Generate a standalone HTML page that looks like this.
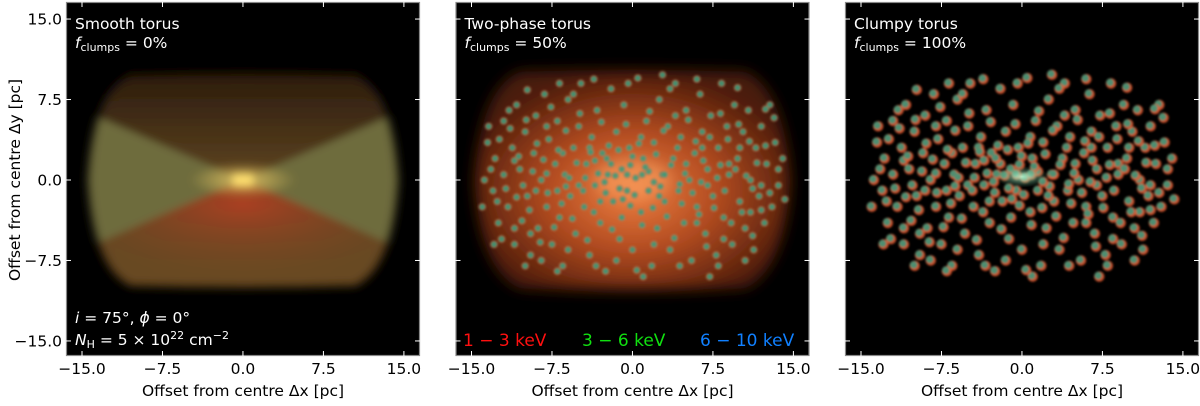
<!DOCTYPE html>
<html><head><meta charset="utf-8"><style>
html,body{margin:0;padding:0;background:#fff;}
svg text{font-family:"DejaVu Sans","Liberation Sans",sans-serif;}
</style></head><body>
<svg id="fig" width="1200" height="401" viewBox="0 0 1200 401" xmlns="http://www.w3.org/2000/svg">
<defs>
<filter id="blur3" x="-20%" y="-20%" width="140%" height="140%"><feGaussianBlur stdDeviation="4"/></filter>
<filter id="blur6" x="-20%" y="-20%" width="140%" height="140%"><feGaussianBlur stdDeviation="7"/></filter>
<filter id="blur1" x="-50%" y="-50%" width="200%" height="200%"><feGaussianBlur stdDeviation="1"/></filter>
<radialGradient id="core" cx="50%" cy="50%" r="50%"><stop offset="0" stop-color="#ffe070"/><stop offset="0.3" stop-color="#e0c060" stop-opacity="0.7"/><stop offset="1" stop-color="#e0c060" stop-opacity="0"/></radialGradient>
<radialGradient id="redbot" cx="50%" cy="20%" r="65%"><stop offset="0" stop-color="#b04020" stop-opacity="0.95"/><stop offset="1" stop-color="#7a4420" stop-opacity="0"/></radialGradient>
<linearGradient id="topfade" x1="0" y1="0" x2="0" y2="1"><stop offset="0" stop-color="#2a1a0c"/><stop offset="0.5" stop-color="#5e4420"/><stop offset="1" stop-color="#6a4a22"/></linearGradient>
<radialGradient id="orange2" cx="50%" cy="55%" r="55%"><stop offset="0" stop-color="#f08040"/><stop offset="0.5" stop-color="#b04a20"/><stop offset="1" stop-color="#4a1a08"/></radialGradient>
<radialGradient id="core3" cx="50%" cy="50%" r="50%"><stop offset="0" stop-color="#c0ffd8" stop-opacity="0.8"/><stop offset="1" stop-color="#60c090" stop-opacity="0"/></radialGradient>
</defs>
<g id="root"></g>
</svg>
<script>
const xTicks=[-15,-7.5,0,7.5,15];
const yTicks=[15,7.5,0,-7.5,-15];
const xTickLabels=["\u221215.0","\u22127.5","0.0","7.5","15.0"];
const yTickLabels=["15.0","7.5","0.0","\u22127.5","\u221215.0"];
const titles=["Smooth torus","Two-phase torus","Clumpy torus"];
const fclumps=["0%","50%","100%"];
const clumps=[
[-13.5,3.5],[-13,-1],[-12.8,2],[-12.5,-4],[-12,5.5],[-12,0.5],[-11.6,-2.5],[-11.2,3],[-11,-6],[-10.8,7],[-10.5,1],[-10.3,-3.8],[-10,4.5],[-9.8,-1.5],[-9.5,-7],[-9.2,2.5],[-9,6],[-8.8,-4.5],[-8.5,0],[-8.2,8],[-8,-2.5],[-7.8,3.8],[-7.5,-6],[-7.2,1.5],[-7,5.5],[-6.8,-3.5],[-6.5,-8],[-6.3,0.5],[-6,7.5],[-5.8,-1.5],[-5.5,3],[-5.3,-5],[-5,5],[-4.8,9],[-4.5,-2.5],[-4.3,1.5],[-4,-7],[-3.8,4],[-3.5,-0.5],[-3.3,6.5],[-3,-4],[-2.8,2.5],[-2.5,-8.5],[-2.3,0.5],[-2,8.5],[-1.8,-2],[-1.5,4.5],[-1.2,-5.5],[-1,1],[-0.8,7],[-0.5,-1],[-0.3,3],[0,-6.5],[0.3,0.2],[0.5,9.5],[0.8,-3],[1,2],[1.3,5.5],[1.5,-1],[1.8,-8],[2,3.5],[2.3,-4.5],[2.5,7.5],[2.8,0.5],[3,-2],[3.3,5],[3.5,-6.5],[3.8,2],[4,9],[4.3,-1],[4.5,4],[4.8,-4],[5,6.5],[5.3,0],[5.5,-7.5],[5.8,2.5],[6,-2.5],[6.3,8],[6.5,4.5],[6.8,-5],[7,1],[7.3,6],[7.5,-1.5],[7.8,-7],[8,3],[8.3,9],[8.5,-3.5],[8.8,5],[9,0.5],[9.3,-6],[9.5,7],[9.8,2],[10,-2],[10.3,4.5],[10.5,-4.5],[10.8,6.5],[11,0],[11.3,-6.5],[11.5,3],[11.8,-1.5],[12,5],[12.3,-4],[12.5,1.5],[12.8,7],[13,-2.5],[13.3,3.5],[13.6,-0.5],[14,2],[-13.8,0],[-12.2,-5.5],[-11.5,6.5],[-9.5,-5],[-8,5],[-6,-6.5],[-4,3],[-3,-2],[-1,-3.5],[0.8,4],[2,-6],[4,6],[6,-4],[8.5,-5.5],[10,3],[11,-3],[-2,1.5],[-0.5,0.5],[1.5,0.8],[3,0.5],[-3.5,1.8],[-5,-0.5],[5,1.5],[-7,-1],[7,-0.5],[-9,-1],[9,1.5],[-11,1.8],[12,-0.5],[-2.5,-1.2],[2.5,-1.5],[0,2.2],[-6.5,2.5],[6.5,3],[-8.5,-7.5],[8,-8],[-1.5,-7.5],[3.5,8.5],[-5.5,8],[1,-9]
];
const clumpsB=[
[-14,-2.5],[-13.2,1],[-12.6,-2],[-12.4,3.8],[-11.8,-0.8],[-11.4,4.8],[-11,-4.5],[-10.6,2.2],[-10.2,-0.5],[-9.9,5.6],[-9.6,-2.8],[-9.3,0.8],[-8.9,3.4],[-8.6,-5.8],[-8.3,1.9],[-7.9,-1.2],[-7.6,6.8],[-7.3,-4.4],[-6.9,2.8],[-6.6,-2.2],[-6.2,4.6],[-5.9,0.2],[-5.6,-3.6],[-5.2,1.6],[-4.9,6.2],[-4.6,-1],[-4.2,-5.6],[-3.9,2.6],[-3.6,-3],[-3.2,0.6],[-2.9,5.4],[-2.6,-0.2],[-2.2,3.2],[-1.9,-4.6],[-1.6,0.4],[-1.3,2.8],[-0.9,-1.8],[-0.6,5.2],[-0.2,1.4],[0.2,-1.4],[0.6,3.4],[0.9,-4.2],[1.2,1.2],[1.6,6.4],[1.9,-2.6],[2.2,2.4],[2.6,-0.6],[2.9,4.6],[3.2,-3.4],[3.6,1.4],[3.9,-5.4],[4.2,3],[4.6,-2.2],[4.9,0.6],[5.2,5.6],[5.6,-1.2],[5.9,3.6],[6.2,-3.2],[6.6,1.8],[6.9,-6.2],[7.2,4],[7.6,-2.6],[7.9,0.2],[8.2,6.2],[8.6,-1],[8.9,3.8],[9.2,-4],[9.6,1],[9.9,5.2],[10.2,-3],[10.6,0.4],[10.9,3.6],[11.2,-5.2],[11.6,1.6],[12,-2.8],[12.4,3.2],[12.8,-1.2],[13.2,5.8],[13.6,1],[14.2,-1.8],[-13.4,5],[-12.9,-6],[-10,-8],[-7,-8.5],[-3.4,-8],[0.4,-8.4],[4.4,-8],[7.2,-9],[10.5,-7.5],[-9.8,8.4],[-6.8,9],[-3.6,9.4],[-0.4,9],[2.8,9.8],[6,9.4],[9.8,8.6],[12.4,6.6],[-1.2,-0.8],[0.9,0.5],[-0.2,-2.4],[2,-0.2],[-2.4,2],[-4.4,0.2],[4.4,-0.4],[-6.2,-0.6],[6.4,-0.2],[-8,0.6],[8.2,1.4],[-10.8,-1.6],[11.2,-0.8]
];
const NS='http://www.w3.org/2000/svg';
const root=document.getElementById('root');
const K=10.73, STEP=389.5;
function sx(p,x){return 82+p*STEP+(x+15)*K;}
function sy(y){return 180-y*K;}
function el(tag,attrs,parent){const e=document.createElementNS(NS,tag);for(const k in attrs)e.setAttribute(k,attrs[k]);(parent||root).appendChild(e);return e;}
function barrel(p){
 const X=x=>sx(p,x),Y=sy;
 return `M${X(-10.5)},${Y(10.1)} Q${X(0)},${Y(10.4)} ${X(10.5)},${Y(10.1)} Q${X(14.2)},${Y(8.5)} ${X(14.7)},${Y(0)} Q${X(14.2)},${Y(-8.5)} ${X(10.5)},${Y(-10.1)} Q${X(0)},${Y(-10.4)} ${X(-10.5)},${Y(-10.1)} Q${X(-14.2)},${Y(-8.5)} ${X(-14.7)},${Y(0)} Q${X(-14.2)},${Y(8.5)} ${X(-10.5)},${Y(10.1)} Z`;
}
const allClumps=clumps.concat(clumpsB);
for(let p=0;p<3;p++){
 const L=66+p*STEP, T=2, W=354, H=354;
 const g=el('g',{});
 
 
 const bg=el('rect',{x:L,y:T,width:W,height:H,fill:'#000'},g);
 
 
 const clip=el('clipPath',{id:'clip'+p},g);
 el('rect',{x:L,y:T,width:W,height:H},clip);
 const img=el('g',{'clip-path':'url(#clip'+p+')'},g);
 
 
 if(p===0){
  const cp=el('clipPath',{id:'bar0'},g);
  el('path',{d:barrel(0)},cp);
  const bl=el('g',{filter:'url(#blur3)'},img);
  const inner=el('g',{'clip-path':'url(#bar0)'},bl);
  el('path',{d:barrel(0),fill:'url(#topfade)'},inner);
  el('path',{d:`M${sx(0,-15)},${sy(6.5)} L${sx(0,0)},${sy(0)} L${sx(0,-15)},${sy(-6.5)} Z M${sx(0,15)},${sy(6.5)} L${sx(0,0)},${sy(0)} L${sx(0,15)},${sy(-6.5)} Z`,fill:'#6e6c3c'},inner);
  el('path',{d:`M${sx(0,-14)},${sy(-6)} L${sx(0,0)},${sy(0)} L${sx(0,14)},${sy(-6)} L${sx(0,12)},${sy(-11)} L${sx(0,-12)},${sy(-11)} Z`,fill:'url(#redbot)'},inner);
  el('ellipse',{cx:sx(0,0),cy:sy(0),rx:5*K,ry:1.6*K,fill:'url(#core)'},inner);
  el('rect',{x:sx(0,-0.9),y:sy(0.5),width:1.8*K,height:1.0*K,fill:'#ffe070'},inner);
  el('path',{d:barrel(0),fill:'none',stroke:'#000',opacity:0.5,'stroke-width':12},inner);
 } else if(p===1){
  const bl=el('g',{filter:'url(#blur6)'},img);
  el('path',{d:barrel(1),fill:'url(#orange2)'},bl);
  el('ellipse',{cx:sx(1,0),cy:sy(0),rx:3.5*K,ry:1.8*K,fill:'#f8a060',opacity:0.6},bl);
  const dg=el('g',{filter:'url(#blur1)'},img);
  allClumps.forEach(c=>{
   const d=el('circle',{cx:sx(1,c[0]),cy:sy(c[1]),r:4,fill:'#c07048',opacity:0.6},dg);
   
   
   el('circle',{cx:sx(1,c[0]),cy:sy(c[1]),r:3,fill:'#30a080',opacity:0.8},dg);
  });
 } else {
  const dg=el('g',{filter:'url(#blur1)'},img);
  allClumps.forEach(c=>{
   const d=el('circle',{cx:sx(2,c[0]),cy:sy(c[1]),r:5.2,fill:'#e85a30',opacity:0.85},dg);
   
   
   el('circle',{cx:sx(2,c[0])-1,cy:sy(c[1])-1,r:3.8,fill:'#3a9a7e',opacity:0.85},dg);
  });
  el('ellipse',{cx:sx(2,0),cy:sy(0.3),rx:2.5*K,ry:1*K,fill:'url(#core3)'},img);
 }
 const fr=el('rect',{x:L+0.5,y:T+0.5,width:W-1,height:H-1,fill:'none',stroke:'#888','stroke-width':1.2},g);
 
 
 xTicks.forEach((v,i)=>{
  const x=sx(p,v);
  el('line',{x1:x,y1:T,x2:x,y2:T+5,stroke:'#fff','stroke-width':1},g);
  el('line',{x1:x,y1:T+H,x2:x,y2:T+H-5,stroke:'#fff','stroke-width':1},g);
  const t=el('text',{x:x,y:374,'font-size':15.5,'text-anchor':'middle',fill:'#000'},g);
  t.textContent=xTickLabels[i];
  
  
 });
 yTicks.forEach((v,i)=>{
  const y=sy(v);
  el('line',{x1:L,y1:y,x2:L+5,y2:y,stroke:'#fff','stroke-width':1},g);
  el('line',{x1:L+W,y1:y,x2:L+W-5,y2:y,stroke:'#fff','stroke-width':1},g);
  if(p===0){
   const t=el('text',{x:L-4,y:y+5.5,'font-size':15.5,'text-anchor':'end',fill:'#000'},g);
   t.textContent=yTickLabels[i];
   
   
  }
 });
 const xl=el('text',{x:L+W/2,y:396,'font-size':15.5,'text-anchor':'middle',fill:'#000'},g);
 xl.textContent='Offset from centre \u0394x [pc]';
 
 
 const tt=el('text',{x:L+9,y:29,'font-size':15.5,fill:'#fff'},g);
 tt.textContent=titles[p];
 
 
 const fc=el('text',{x:L+9,y:48,'font-size':15.5,fill:'#fff'},g);
 fc.innerHTML='<tspan font-style="italic">f</tspan><tspan font-size="11" dy="3">clumps</tspan><tspan dy="-3"> =  '+fclumps[p]+'</tspan>';
 
 
}
const yl=el('text',{x:0,y:0,'font-size':15.5,'text-anchor':'middle',fill:'#000',transform:'translate(20,180) rotate(-90)'});
yl.textContent='Offset from centre \u0394y [pc]';


const a1=el('text',{x:75,y:323,'font-size':15.5,fill:'#fff'});
a1.innerHTML='<tspan font-style="italic">i</tspan> =  75°,  <tspan font-style="italic">ϕ</tspan> =  0°';


const a2=el('text',{x:75,y:345,'font-size':15.5,fill:'#fff'});
a2.innerHTML='<tspan font-style="italic">N</tspan><tspan font-size="11" dy="3">H</tspan><tspan dy="-3"> = 5 × 10</tspan><tspan font-size="11" dy="-6">22</tspan><tspan dy="6"> cm</tspan><tspan font-size="11" dy="-6">−2</tspan>';


const bands=[["1 − 3 keV","#ff1010",463],["3 − 6 keV","#10e010",582],["6 − 10 keV","#1080ff",700]];
bands.forEach(b=>{
 const t=el('text',{x:b[2],y:346,'font-size':17,fill:b[1]});
 t.textContent=b[0];
 
 
});
</script>
</body></html>
